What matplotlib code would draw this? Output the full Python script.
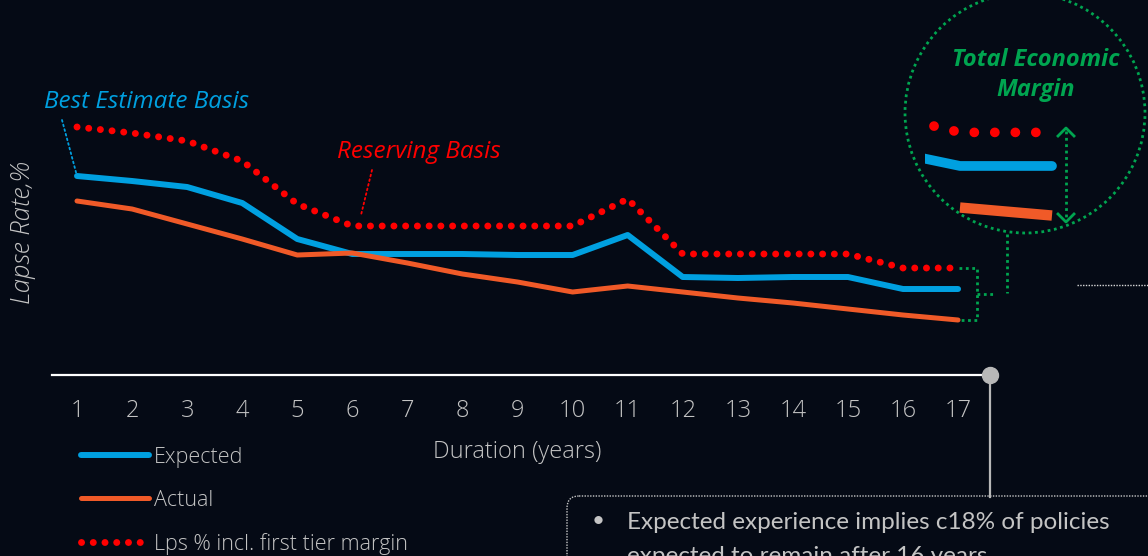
import matplotlib
matplotlib.use("Agg")
import matplotlib.pyplot as plt
from matplotlib.lines import Line2D
from matplotlib.patches import Circle, FancyBboxPatch
from matplotlib.transforms import Affine2D

# lapse rate by duration (no y scale is shown)
durations = list(range(1, 18))
expected = [9.95, 9.7, 9.4, 8.6, 6.8, 6.05, 6.05, 6.05, 6.0, 6.0, 7.0, 4.9, 4.85, 4.9, 4.9, 4.3, 4.3]
actual = [8.7, 8.3, 7.55, 6.8, 6.0, 6.1, 5.6, 5.05, 4.65, 4.15, 4.45, 4.15, 3.85, 3.6, 3.3, 3.0, 2.75]
reserving = [12.4, 12.1, 11.7, 10.7, 8.55, 7.45, 7.45, 7.45, 7.45, 7.45, 8.8, 6.05, 6.05, 6.05, 6.05, 5.35, 5.35]
series_labels = ["Expected", "Actual", "Lps % incl. first tier margin"]
x_label = "Duration (years)"
y_label = "Lapse Rate,%"
best_estimate_label = "Best Estimate Basis"
reserving_label = "Reserving Basis"
margin_label = "Total Economic\nMargin"
note_lines = ["Expected experience implies c18% of policies",
              "expected to remain after 16 years"]

BG = "#050a15"
BLUE = "#00a0e0"
ORANGE = "#f05a28"
RED = "#ff0000"
GREEN = "#00a550"
GREY = "#c4c4c4"

W, H = 1148, 556
fig = plt.figure(figsize=(W / 100, H / 100), dpi=100, facecolor=BG)

# pixel coords measured from the top left corner of the picture
pix = Affine2D().scale(1, -1).translate(0, H)


def fbox(x0, y0, x1, y1):
    return [x0 / W, 1 - y1 / H, (x1 - x0) / W, (y1 - y0) / H]


ax = fig.add_axes(fbox(52, 20, 990, 375))
ax.set_facecolor("none")
ax.set_xlim(0.546, 17.58)
ax.set_ylim(0, 17.75)

dots = (0, (0.01, 1.68))
ax.plot(durations, reserving, color=RED, lw=5, ls=dots, dash_capstyle="round",
        label=series_labels[2], zorder=3)
ax.plot(durations, expected, color=BLUE, lw=4.3, solid_capstyle="round",
        label=series_labels[0], zorder=4)
ax.plot(durations, actual, color=ORANGE, lw=3.6, solid_capstyle="round",
        label=series_labels[1], zorder=4)

for s in ["top", "right", "left"]:
    ax.spines[s].set_visible(False)
ax.spines["bottom"].set_color("white")
ax.spines["bottom"].set_linewidth(1.6)
ax.set_xticks(durations)
ax.set_yticks([])
ax.tick_params(axis="x", length=0, pad=17, labelsize=17, labelcolor=GREY)
for t in ax.get_xticklabels():
    t.set_fontfamily("Open Sans")
    t.set_fontweight("light")

ax.set_xlabel(x_label, fontsize=17, color=GREY, family="Open Sans", weight="light")
ax.xaxis.set_label_coords(0.496, -0.184)
ax.set_ylabel(y_label, fontsize=18.5, color=GREY, family="Open Sans", style="italic",
              weight="light")
ax.yaxis.set_label_coords(-0.017, 0.40)

# end of the axis: grey knob and the stem down to the note box
ax.plot([1], [0], transform=ax.transAxes, marker="o", ms=11.5, color="#b8b8b8",
        clip_on=False, zorder=6)
fig.add_artist(Line2D([990, 990], [385, 497], transform=pix, color="#b8b8b8", lw=1.6))

# legend
h, l = ax.get_legend_handles_labels()
order = [1, 2, 0]
leg = fig.legend([h[i] for i in order], [l[i] for i in order], loc="upper left",
                 bbox_to_anchor=(81 / W, 1 - 447 / H), frameon=False,
                 handlelength=3.15, handletextpad=0.25, labelspacing=1.02,
                 borderpad=0, borderaxespad=0,
                 prop={"family": "Open Sans", "weight": "light", "size": 15.5})
for t in leg.get_texts():
    t.set_color(GREY)

# basis call-outs
fig.text(44 / W, 1 - 102 / H, best_estimate_label, color=BLUE, fontsize=17.5,
         family="Open Sans", style="italic", va="center", ha="left")
ax.annotate("", xy=(durations[0], expected[0]), xytext=(62, 120), textcoords=pix,
            arrowprops=dict(arrowstyle="-", ls=":", color=BLUE, lw=1.3,
                            shrinkA=0, shrinkB=0))
fig.text(337 / W, 1 - 152 / H, reserving_label, color=RED, fontsize=17.5,
         family="Open Sans", style="italic", va="center", ha="left")
ax.annotate("", xy=(361, 215), xycoords=pix, xytext=(372, 170), textcoords=pix,
            arrowprops=dict(arrowstyle="-", ls=":", color=RED, lw=1.3,
                            shrinkA=0, shrinkB=0))

# bracket round the gap at the last duration
gdots = (0, (1, 1.3))
bx0, bx1 = durations[-1] + 0.02, durations[-1] + 0.35
ax.plot([bx0, bx1, bx1, bx0], [reserving[-1], reserving[-1], actual[-1], actual[-1]],
        color=GREEN, lw=2, ls=gdots, clip_on=False)
mid = (reserving[-1] + actual[-1]) / 2
ax.plot([bx1, bx1 + 0.29], [mid, mid], color=GREEN, lw=2, ls=gdots, clip_on=False)
fig.add_artist(Line2D([1007, 1007], [234, 293], transform=pix, color=GREEN, lw=2,
                      ls=gdots))
fig.add_artist(Line2D([1077, 1148], [285, 285], transform=pix, color="#d8d8d8", lw=1,
                      ls=(0, (1, 1))))

# magnifier circle
fig.add_artist(Circle((1025, 113), 120, transform=pix, fill=False, ec=GREEN, lw=2,
                      ls=gdots))
fig.text(1036 / W, 1 - 75 / H, margin_label, color=GREEN, fontsize=17, family="Open Sans",
         weight="bold", style="italic", ha="center", va="center", linespacing=1.3)

ins = fig.add_axes(fbox(925, 118, 1060, 228))
ins.set_facecolor("none")
ins.axis("off")
ins.set_xlim(15.62, 17.087)
ins.set_ylim(2.36, 5.8)
ins.plot(durations, reserving, color=RED, lw=7, ls=(0, (0.01, 2.1)),
         dash_capstyle="round")
ins.plot(durations, expected, color=BLUE, lw=7, solid_capstyle="round")
ins.plot(durations[15:], actual[15:], color=ORANGE, lw=7.5, solid_capstyle="butt")

fig.add_artist(Line2D([1066, 1066], [131, 219], transform=pix, color=GREEN, lw=2,
                      ls=gdots))
for tip, d in [(128, 8), (222, -8)]:
    fig.add_artist(Line2D([1058, 1066, 1074], [tip + d, tip, tip + d], transform=pix,
                          color=GREEN, lw=2))

# note box at the bottom right
fig.add_artist(FancyBboxPatch((567, 496), 620, 90, transform=pix,
                              boxstyle="round,pad=0,rounding_size=12",
                              fill=False, ec="#c8c8c8", lw=1, ls=(0, (1, 1))))
fig.text(592 / W, 1 - 521 / H, "\u2022", color=GREY, fontsize=16, family="Lato",
         va="center", ha="left")
fig.text(627 / W, 1 - 529 / H, note_lines[0], color=GREY, fontsize=17.5, family="Lato",
         va="baseline", ha="left")
fig.text(627 / W, 1 - 563 / H, note_lines[1], color=GREY, fontsize=17.5, family="Lato",
         va="baseline", ha="left")

fig.savefig("out.png", dpi=100, facecolor=BG)
